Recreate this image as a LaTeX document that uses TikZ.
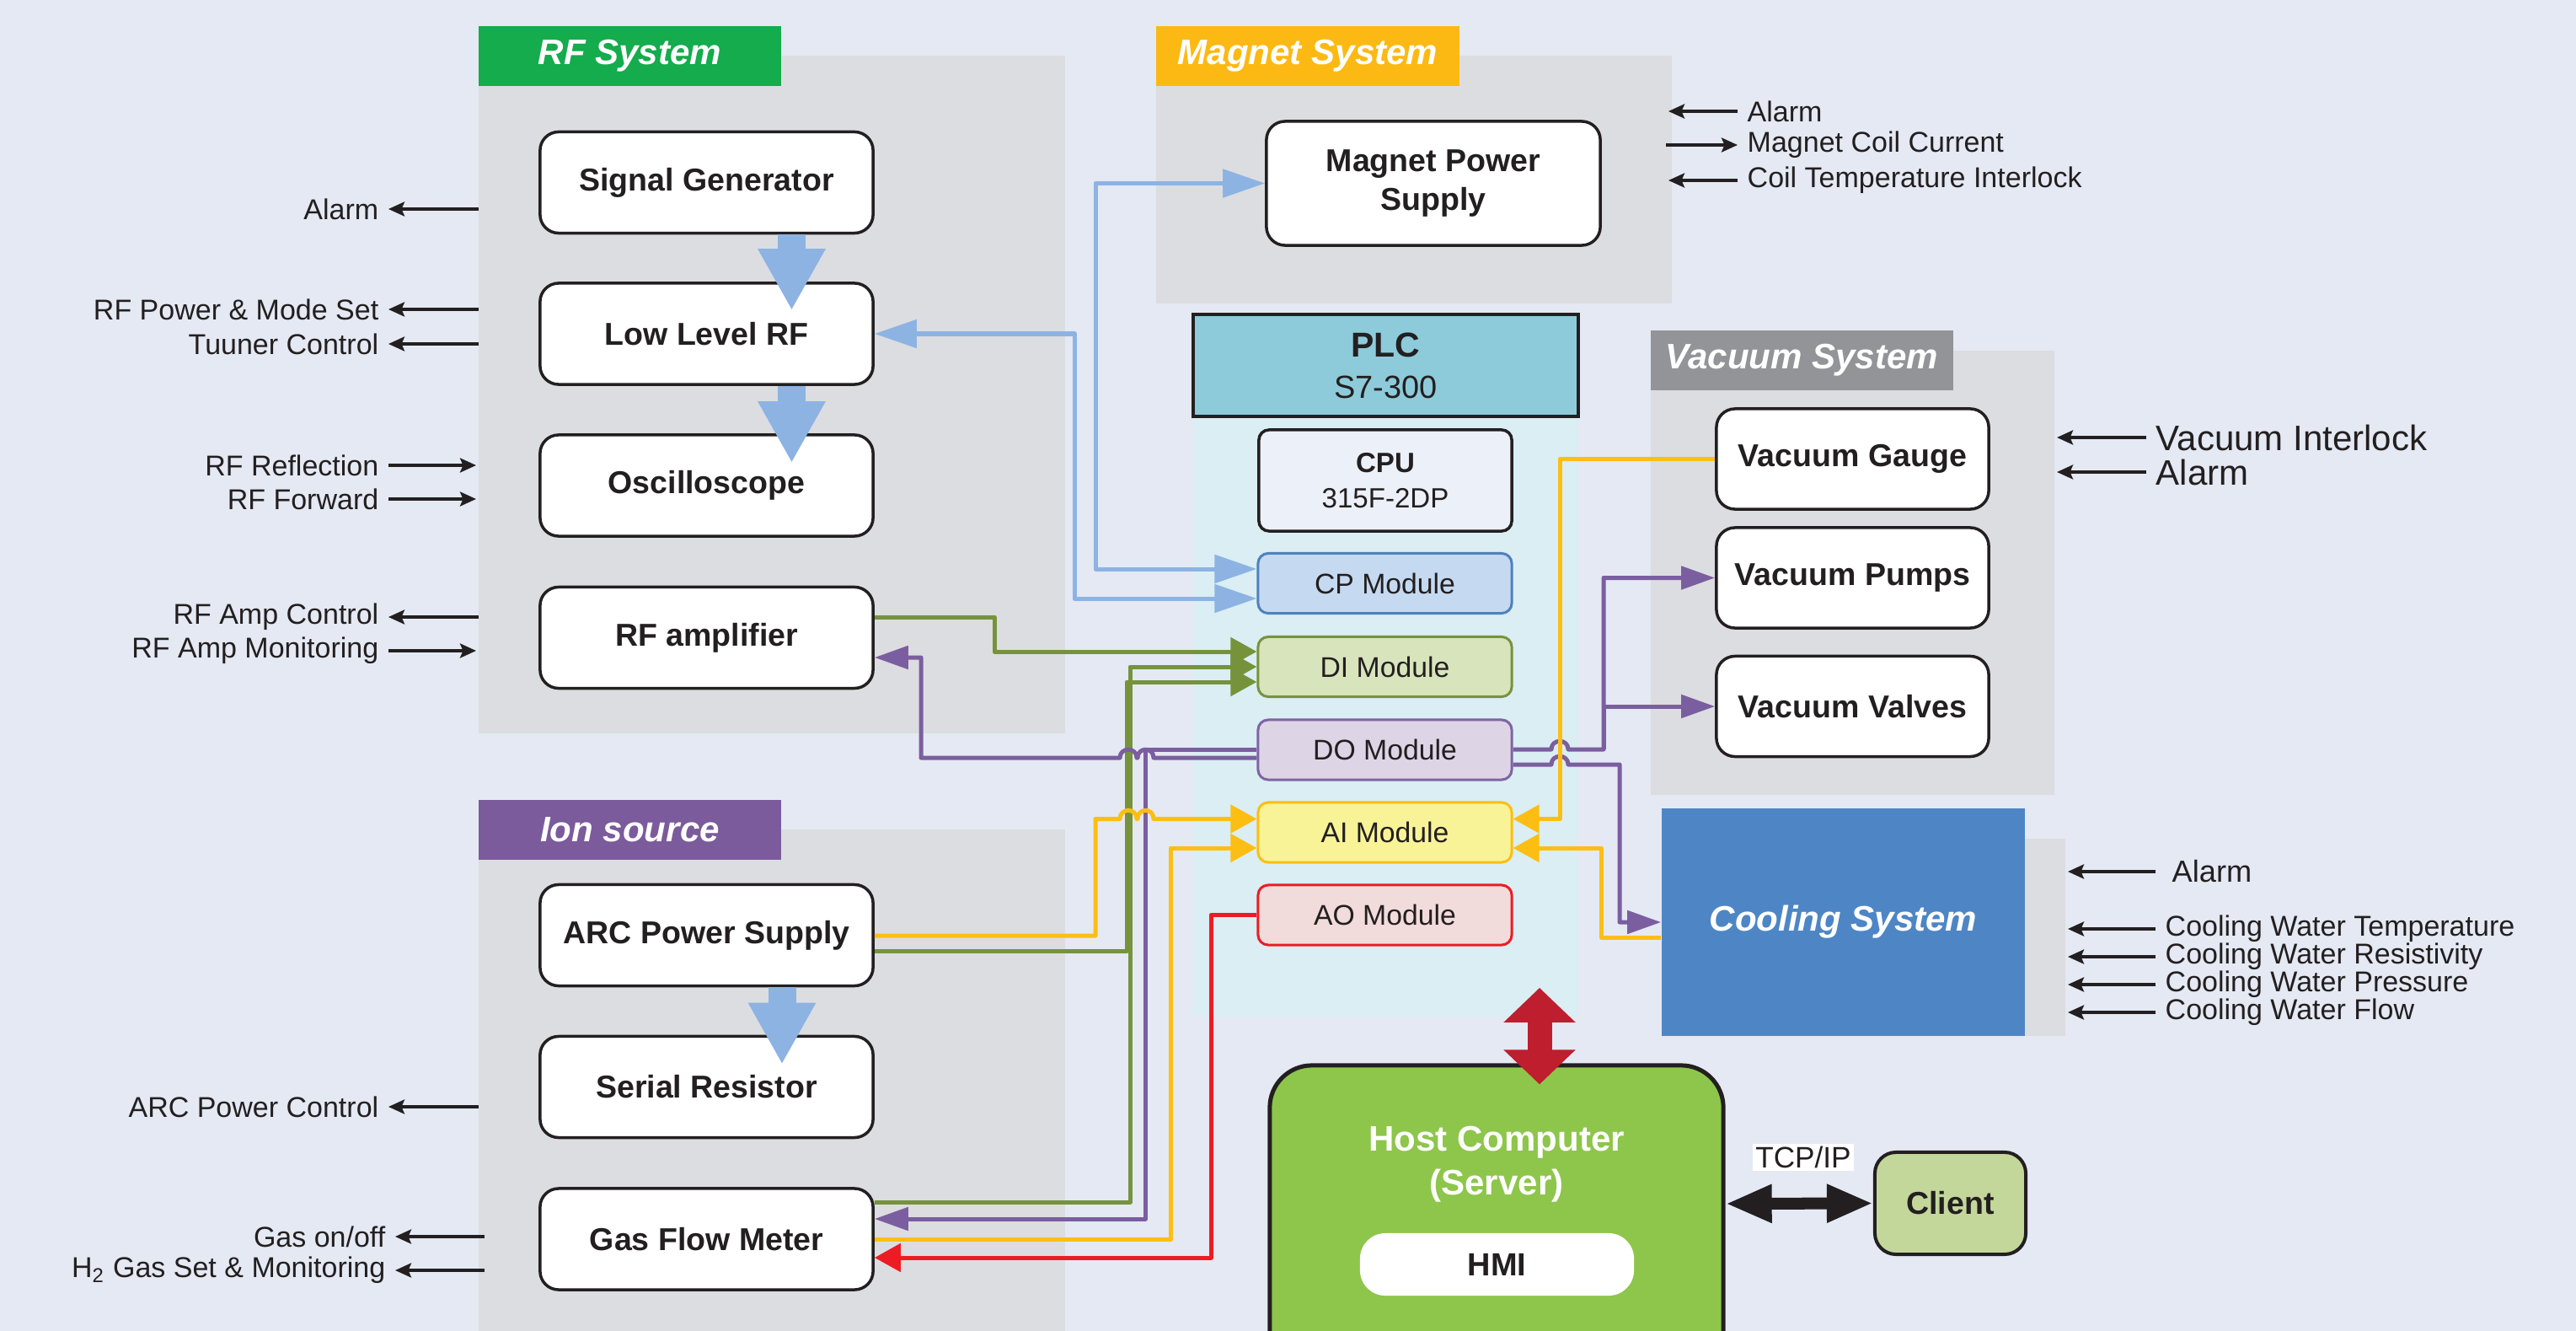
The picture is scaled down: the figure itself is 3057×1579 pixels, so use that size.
\documentclass[tikz,border=0pt]{standalone}
\usepackage{fontspec}
\setmainfont{Liberation Sans}
\usetikzlibrary{arrows.meta,calc}
\definecolor{bgc}{HTML}{E4E9F3}
\definecolor{panelc}{HTML}{DCDDE0}
\definecolor{txtc}{HTML}{231F20}
\definecolor{rfgreen}{HTML}{14AC4C}
\definecolor{magc}{HTML}{FDB913}
\definecolor{ionc}{HTML}{7B5B9B}
\definecolor{vacc}{HTML}{929497}
\definecolor{coolc}{HTML}{4E86C5}
\definecolor{plcheadc}{HTML}{8DCBDB}
\definecolor{plcbodyc}{HTML}{DAEEF3}
\definecolor{cpuc}{HTML}{ECF0F8}
\definecolor{cpf}{HTML}{C5D9F1}\definecolor{cpd}{HTML}{4F81BD}
\definecolor{dif}{HTML}{D8E4BC}\definecolor{did}{HTML}{77933C}
\definecolor{dof}{HTML}{DDD5E6}\definecolor{dod}{HTML}{8064A2}
\definecolor{aif}{HTML}{F8F396}\definecolor{aid}{HTML}{FDBE14}
\definecolor{aof}{HTML}{F2DCDB}\definecolor{aod}{HTML}{ED1C24}
\definecolor{bluec}{HTML}{8DB3E2}
\definecolor{greenc}{HTML}{76933C}
\definecolor{purplec}{HTML}{7B5EA0}
\definecolor{yellowc}{HTML}{FDBE14}
\definecolor{redc}{HTML}{ED1C24}
\definecolor{hostc}{HTML}{8DC64B}
\definecolor{clientc}{HTML}{C4D79B}
\definecolor{redarrc}{HTML}{BE1E2D}
\newcommand\dgBox{\fontsize{10.67}{13}\selectfont\bfseries}
\newcommand\dgLab{\fontsize{9.67}{11.6}\selectfont}
\newcommand\dgBig{\fontsize{11.95}{14}\selectfont}
\newcommand\dgHead{\fontsize{11.95}{14}\selectfont\bfseries\itshape}
\newcommand\dgMod{\fontsize{9.6}{11.5}\selectfont}
\begin{document}
\begin{tikzpicture}[x=0.01cm,y=-0.01cm,
  every node/.style={text=txtc},
  sysbox/.style={draw=txtc, line width=0.035cm, fill=white, rounded corners=0.22cm,
    minimum width=3.95cm, minimum height=1.2cm, inner sep=0pt, align=center, font=\dgBox},
  header/.style={minimum width=3.59cm, minimum height=0.71cm, inner sep=0pt, text=white, font=\dgHead},
  module/.style={line width=0.03cm, rounded corners=0.12cm, minimum width=3.01cm,
    minimum height=0.71cm, inner sep=0pt, font=\dgMod},
  lab/.style={font=\dgLab, inner sep=0.11cm},
  biglab/.style={font=\dgBig, inner sep=0.11cm},
  sig/.style={draw=txtc, line width=0.034cm, -{Stealth[length=0.19cm,width=0.17cm,inset=0.035cm]}},
  conn/.style={line width=0.05cm, line join=round},
  btip/.tip={Triangle[length=0.5cm,width=0.33cm]},
  gtip/.tip={Triangle[length=0.31cm,width=0.33cm]},
  ptip/.tip={Triangle[length=0.40cm,width=0.27cm]},
  bigarr/.style={draw=bluec, line width=0.33cm, -{Triangle[length=0.73cm,width=0.75cm]}}
]
\useasboundingbox (0,0) rectangle (3057,1579);
\clip (0,0) rectangle (3057,1579);
\fill[bgc] (0,0) rectangle (3057,1579);

% panels
\fill[panelc] (568,66) rectangle (1264,870);
\fill[panelc] (568,984) rectangle (1264,1650);
\fill[panelc] (1372,66) rectangle (1984,360);
\fill[panelc] (1959,416) rectangle (2438,943);
\fill[panelc] (2380,995) rectangle (2451,1229);

% headers
\node[header, fill=rfgreen] (hrf) at (747.5,66.5) {RF System};
\node[header, fill=magc] (hmag) at (1552,66.5) {Magnet System};
\node[header, fill=ionc] (hion) at (747.5,984.5) {Ion source};
\node[header, fill=vacc] (hvac) at (2138.5,427.5) {Vacuum System};

% PLC
\node[fill=plcbodyc, minimum width=4.56cm, minimum height=7.12cm, inner sep=0pt] (plcbody) at (1644,850) {};
\node[draw=txtc, line width=0.035cm, fill=plcheadc, minimum width=4.57cm, minimum height=1.21cm,
  inner sep=0pt, align=center, font=\fontsize{10.8}{13.9}\selectfont] (plc) at (1644.5,433.5)
  {{\fontsize{11.66}{13.9}\selectfont\bfseries PLC}\\S7-300};
\node[draw=txtc, line width=0.035cm, fill=cpuc, rounded corners=0.12cm, minimum width=3.0cm,
  minimum height=1.2cm, inner sep=0pt, align=center, font=\fontsize{9.4}{11.95}\selectfont] (cpu) at (1644,570)
  {{\bfseries CPU}\\315F-2DP};
\node[module, draw=cpd, fill=cpf] (cp) at (1643.5,692) {CP Module};
\node[module, draw=did, fill=dif] (di) at (1643.5,791) {DI Module};
\node[module, draw=dod, fill=dof] (do) at (1643.5,889.5) {DO Module};
\node[module, draw=aid, fill=aif] (ai) at (1643.5,987.5) {AI Module};
\node[module, draw=aod, fill=aof] (ao) at (1643.5,1085.5) {AO Module};

% RF boxes
\node[sysbox] (sg) at (838.5,216.5) {Signal Generator};
\node[sysbox] (llrf) at (838.5,396) {Low Level RF};
\node[sysbox] (osc) at (838.5,576) {Oscilloscope};
\node[sysbox] (rfa) at (838.5,756.5) {RF amplifier};
% Ion boxes
\node[sysbox] (arc) at (838.5,1109.5) {ARC Power Supply};
\node[sysbox] (sr) at (838.5,1289.5) {Serial Resistor};
\node[sysbox] (gfm) at (838.5,1470) {Gas Flow Meter};
% Magnet
\node[sysbox, minimum width=3.96cm, minimum height=1.47cm] (mps) at (1701,217.5) {Magnet Power\\Supply};
% Vacuum
\node[sysbox, minimum width=3.23cm, minimum height=1.19cm] (vg) at (2198.5,544.5) {Vacuum Gauge};
\node[sysbox, minimum width=3.23cm, minimum height=1.19cm] (vp) at (2198.5,685.5) {Vacuum Pumps};
\node[sysbox, minimum width=3.23cm, minimum height=1.19cm] (vv) at (2198.5,838) {Vacuum Valves};
% Cooling
\node[fill=coolc, minimum width=4.31cm, minimum height=2.70cm, inner sep=0pt, text=white, font=\dgHead] (cool) at (2187.5,1094) {Cooling System};

% Host and client
\node[draw=txtc, line width=0.05cm, fill=hostc, rounded corners=0.5cm, minimum width=5.38cm, minimum height=3.76cm] (host) at (1776,1452) {};
\node[text=white, align=center, font=\fontsize{11.95}{14.8}\selectfont\bfseries] (hosttxt) at (1776,1381) {Host Computer\\(Server)};
\node[fill=white, rounded corners=0.3cm, minimum width=3.25cm, minimum height=0.74cm, inner sep=0pt, font=\fontsize{10.8}{13}\selectfont\bfseries] (hmi) at (1776.5,1500) {HMI};
\node[draw=txtc, line width=0.04cm, fill=clientc, rounded corners=0.25cm, minimum width=1.79cm, minimum height=1.21cm, inner sep=0pt, font=\dgBox] (client) at (2314.5,1427.5) {Client};
\node[fill=white, inner sep=0.03cm, font=\fontsize{10}{12}\selectfont] (tcp) at (2140,1373) {TCP/IP};
\draw[draw=txtc, line width=0.14cm, {Triangle[length=0.55cm,width=0.42cm]}-{Triangle[length=0.55cm,width=0.42cm]}] ($(host.east)+(0,-24)$) -- (client.west);
\draw[draw=redarrc, line width=0.29cm, {Triangle[length=0.41cm,width=0.83cm]}-{Triangle[length=0.41cm,width=0.83cm]}] ($(plcbody.south)+(183,-35)$) -- ($(host.north)+(51,25)$);

% blue connectors
\draw[conn, bluec, btip-btip] (mps.west) -| (1300,675) -- ($(cp.west)+(0,-17)$);
\draw[conn, bluec, btip-btip] (llrf.east) -| (1275,710) -- ($(cp.west)+(0,18)$);
% green connectors
\draw[conn, greenc, -gtip] ($(rfa.east)+(0,-24.5)$) -| (1180,773) -- ($(di.west)+(0,-18)$);
\draw[conn, greenc, -gtip] ($(arc.east)+(0,18.5)$) -| (1337,809) -- ($(di.west)+(0,18)$);
\draw[conn, greenc, -gtip] ($(gfm.east)+(0,-44)$) -| (1341,791) -- (di.west);
% purple connectors
\draw[conn, purplec, -ptip] ($(do.west)+(0,-0.5)$) -| (1359,1446) -- ($(gfm.east)+(0,-24)$);
\draw[conn, purplec, -ptip] ($(do.west)+(0,9.5)$) -- (1369,899)
  .. controls (1369,886) and (1350,886) .. (1350,899) -- (1349,899)
  .. controls (1349,886) and (1329,886) .. (1329,899) -- (1093,899) -- (1093,780) -- ($(rfa.east)+(0,23.5)$);
\coordinate (vsplit) at (1903,889);
\draw[conn, purplec, -ptip] ($(do.east)+(0,-0.5)$) -- (1841,889)
  .. controls (1841,876) and (1861,876) .. (1861,889) -- (vsplit) |- (vp.west);
\draw[conn, purplec, -ptip] (vsplit) |- (vv.west);
\draw[conn, purplec, -ptip] ($(do.east)+(0,17.5)$) -- (1841,907)
  .. controls (1841,894) and (1861,894) .. (1861,907) -- (1922,907) |- (cool.west);
% yellow connectors
\draw[conn, yellowc, -gtip] (vg.west) -| (1851,971.5) -- ($(ai.east)+(0,-16)$);
\draw[conn, yellowc, -gtip] ($(cool.west)+(0,18)$) -| (1900,1006) -- ($(ai.east)+(0,18.5)$);
\draw[conn, yellowc, -gtip] ($(arc.east)+(0,0.5)$) -| (1300,971.5) -- (1329,971.5)
  .. controls (1329,958) and (1349,958) .. (1349,971.5) -- (1350,971.5)
  .. controls (1350,958) and (1369,958) .. (1369,971.5) -- ($(ai.west)+(0,-16)$);
\draw[conn, yellowc, -gtip] (gfm.east) -| (1389,1006) -- ($(ai.west)+(0,18.5)$);
% red connector
\draw[conn, redc, -gtip] (ao.west) -| (1437,1492) -- ($(gfm.east)+(0,22)$);

% big blue arrows
\draw[bigarr] ($(sg.south)+(101,0)$) -- ($(llrf.north)+(101,34)$);
\draw[bigarr] ($(llrf.south)+(101,0)$) -- ($(osc.north)+(101,35)$);
\draw[bigarr] ($(arc.south)+(89.5,0)$) -- ($(sr.north)+(89.5,35)$);

% RF labels
\node[lab, anchor=east] (r1) at (461,248) {Alarm};
\node[lab, anchor=east] (r2) at (461,367) {RF Power \& Mode Set};
\node[lab, anchor=east] (r3) at (461,408) {Tuuner Control};
\node[lab, anchor=east] (r4) at (461,552) {RF Reflection};
\node[lab, anchor=east] (r5) at (461,592) {RF Forward};
\node[lab, anchor=east] (r6) at (461,732) {RF Amp Control};
\node[lab, anchor=east] (r7) at (461,772) {RF Amp Monitoring};
\draw[sig] ($(r1.east)+(107,0)$) -- (r1.east);
\draw[sig] ($(r2.east)+(107,0)$) -- (r2.east);
\draw[sig] ($(r3.east)+(107,0)$) -- (r3.east);
\draw[sig] (r4.east) -- ++(104,0);
\draw[sig] (r5.east) -- ++(104,0);
\draw[sig] ($(r6.east)+(107,0)$) -- (r6.east);
\draw[sig] (r7.east) -- ++(104,0);
% Ion labels
\node[lab, anchor=east] (i1) at (461,1313) {ARC Power Control};
\node[lab, anchor=east] (i2) at (469,1467) {Gas on/off};
\node[lab, anchor=east] (i3) at (469,1507) {H\textsubscript{2} Gas Set \& Monitoring};
\draw[sig] ($(i1.east)+(107,0)$) -- (i1.east);
\draw[sig] ($(i2.east)+(106,0)$) -- (i2.east);
\draw[sig] ($(i3.east)+(106,0)$) -- (i3.east);
% Magnet labels
\node[lab, anchor=west] (m1) at (2062,132) {Alarm};
\node[lab, anchor=west] (m2) at (2062,172) {Magnet Coil Current};
\node[lab, anchor=west] (m3) at (2062,214) {Coil Temperature Interlock};
\draw[sig] (m1.west) -- ++(-82,0);
\draw[sig] ($(m2.west)+(-85,0)$) -- (m2.west);
\draw[sig] (m3.west) -- ++(-82,0);
% Vacuum labels
\node[biglab, anchor=west] (v1) at (2547,519) {Vacuum Interlock};
\node[biglab, anchor=west] (v2) at (2547,560) {Alarm};
\draw[sig] (v1.west) -- ++(-106,0);
\draw[sig] (v2.west) -- ++(-106,0);
% Cooling labels
\node[lab, anchor=west, font=\fontsize{10.3}{12}\selectfont] (c1) at (2566,1034) {Alarm};
\node[lab, anchor=west] (c2) at (2558,1102) {Cooling Water Temperature};
\node[lab, anchor=west] (c3) at (2558,1135) {Cooling Water Resistivity};
\node[lab, anchor=west] (c4) at (2558,1168) {Cooling Water Pressure};
\node[lab, anchor=west] (c5) at (2558,1201) {Cooling Water Flow};
\draw[sig] ($(c1.west)+(-8,0)$) -- ++(-104,0);
\draw[sig] (c2.west) -- ++(-104,0);
\draw[sig] (c3.west) -- ++(-104,0);
\draw[sig] (c4.west) -- ++(-104,0);
\draw[sig] (c5.west) -- ++(-104,0);
\end{tikzpicture}
\end{document}
